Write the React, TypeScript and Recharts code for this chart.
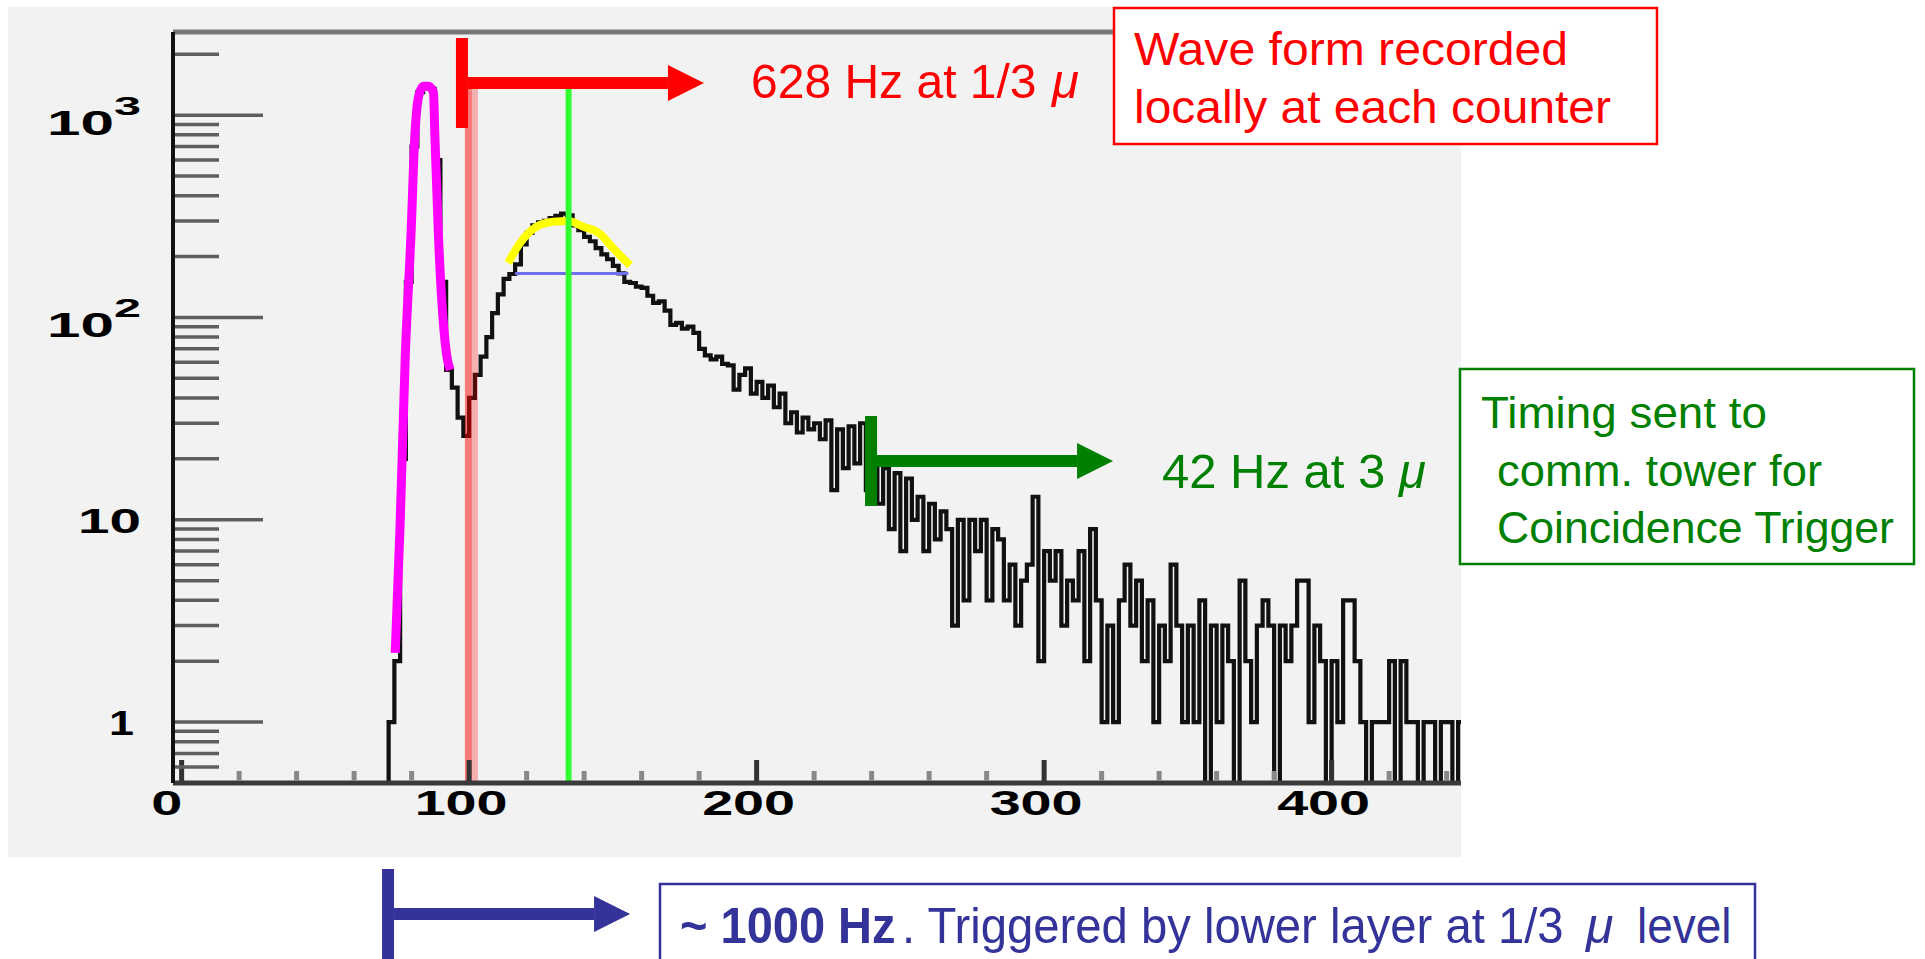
import React from "react";
import { ComposedChart, Line, XAxis, YAxis, ReferenceLine } from "recharts";

// pulse-height histogram, counts per 2-channel bin starting at channel 72
const binStart = 72;
const binWidth = 2;
const counts = [
  1, 2, 20, 150, 700, 1300, 1400, 1350, 600, 150, 55, 45, 32, 26, 40, 52, 64, 80, 105, 130,
  155, 164, 183, 230, 262, 285, 295, 300, 310, 318, 326, 320, 285, 270, 250, 238, 220, 205, 194, 180,
  165, 150, 148, 142, 140, 128, 118, 120, 108, 92, 94, 88, 90, 84, 70, 65, 62, 64, 59, 58,
  44, 52, 56, 42, 48, 40, 46, 36, 42, 30, 34, 27, 32, 28, 30, 25, 31, 14, 28, 18,
  29, 19, 30, 14, 20, 12, 18, 9, 17, 7, 16, 10, 13, 7, 12, 8, 11, 9, 3, 10,
  4, 10, 7, 10, 4, 9, 8, 4, 6, 3, 5, 6, 13, 2, 7, 5, 7, 3, 5, 4,
  7, 2, 9, 4, 1, 3, 1, 4, 6, 3, 5, 2, 4, 1, 3, 2, 6, 3, 1, 3,
  1, 4, 0, 3, 1, 3, 2, 0, 5, 2, 1, 3, 4, 3, 0, 3, 2, 3, 5, 5,
  1, 3, 2, 0, 2, 1, 4, 4, 2, 1, 0, 1, 1, 1, 2, 0, 2, 1, 1, 0,
  1, 1, 0, 1, 1, 0, 1,
];

// gaussian fit of the noise peak, magenta
const noiseFitX = [74.3, 76.0, 77.8, 79.8, 81.1, 82.5, 84.1, 85.8, 87.6, 88.1, 89.3, 92.2, 93.4];
const noiseFitY = [2.2, 9.5, 65, 260, 780, 1250, 1390, 1390, 1300, 780, 260, 65, 55];

// fit of the muon peak, yellow
const muonFitX = [113.6, 117.6, 123.4, 129.2, 134.5, 139.7, 145.5, 150.2, 156.0];
const muonFitY = [186, 232, 281, 297, 300, 281, 259, 219, 181];

const halfMaxLevel = 165;
const halfMaxFrom = 116;
const halfMaxTo = 155.4;

const cutX = 100.8; // 1/3 mu threshold
const peakX = 134.6;
const guideTop = 1360;

const markerRedX = 97.5;
const markerGreenX = 239.8;
const markerBlueX = 71.8;

const xTicks = [0, 20, 40, 60, 80, 100, 120, 140, 160, 180, 200, 220, 240, 260, 280, 300, 320, 340, 360, 380, 400, 420, 440];
const xMajor = [0, 100, 200, 300, 400];
const yTicks = [
  0.6, 0.7, 0.8, 0.9, 1, 2, 3, 4, 5, 6, 7, 8, 9, 10, 20, 30, 40, 50, 60, 70, 80, 90,
  100, 200, 300, 400, 500, 600, 700, 800, 900, 1000, 2000,
];
const yMajor = [1, 10, 100, 1000];

const yFloor = 0.5;
const yTop = 2576;

const histData = [
  { x: binStart - binWidth, y: yFloor },
  ...counts.map((c, i) => ({ x: binStart + i * binWidth, y: c > 0 ? c : yFloor })),
  { x: binStart + counts.length * binWidth, y: yFloor },
];
const noiseFit = noiseFitX.map((x, i) => ({ x, y: noiseFitY[i] }));
const muonFit = muonFitX.map((x, i) => ({ x, y: muonFitY[i] }));

const labelFont = "'Liberation Sans', Arial, sans-serif";
const narrowFont = "'Liberation Sans Narrow', 'Liberation Sans', Arial, sans-serif";

function XTick(props: any) {
  const { x, y, payload } = props;
  const v = payload.value;
  const major = xMajor.includes(v);
  const s = String(v);
  const shift = v === 0 ? 15 : 8;
  return (
    <g>
      <line x1={x} x2={x} y1={y - 2} y2={y - (major ? 23 : 12)} stroke={major ? "#333" : "#888"} strokeWidth={5} />
      {major && (
        <text
          x={x - shift - (s.length * 31) / 2}
          y={y + 32}
          fontFamily={labelFont}
          fontWeight="bold"
          fontSize={35}
          textLength={s.length * 31}
          lengthAdjust="spacingAndGlyphs"
          fill="#000"
        >
          {s}
        </text>
      )}
    </g>
  );
}

function YTick(props: any) {
  const { x, y, payload } = props;
  const v = payload.value;
  const major = yMajor.includes(v);
  let label = null;
  if (v === 1) {
    label = (
      <text x={x - 64} y={y + 13} fontFamily={labelFont} fontWeight="bold" fontSize={35} textLength={25} lengthAdjust="spacingAndGlyphs">
        1
      </text>
    );
  } else if (v === 10) {
    label = (
      <text x={x - 95} y={y + 13} fontFamily={labelFont} fontWeight="bold" fontSize={35} textLength={63} lengthAdjust="spacingAndGlyphs">
        10
      </text>
    );
  } else if (major) {
    const p = String(Math.round(Math.log10(v)));
    label = (
      <g fontFamily={labelFont} fontWeight="bold">
        <text x={x - 126} y={y + 20} fontSize={35} textLength={67} lengthAdjust="spacingAndGlyphs">
          10
        </text>
        <text x={x - 59} y={y} fontSize={26} textLength={27} lengthAdjust="spacingAndGlyphs">
          {p}
        </text>
      </g>
    );
  }
  return (
    <g>
      <line x1={x + 2} x2={x + (major ? 90 : 46)} y1={y} y2={y} stroke="#5e5e5e" strokeWidth={3.5} />
      {label}
    </g>
  );
}

function Marker({ x, top, bottom, mid, color }: { x: number; top: number; bottom: number; mid: number; color: string }) {
  return (
    <g>
      <rect x={x - 6} y={top} width={12} height={bottom - top} fill={color} />
      <rect x={x + 6} y={mid - 6} width={200} height={12} fill={color} />
      <polygon points={`${x + 206},${mid - 18} ${x + 242},${mid} ${x + 206},${mid + 18}`} fill={color} />
    </g>
  );
}

export default function App() {
  return (
    <div style={{ position: "absolute", left: 0, top: 0, width: 1925, height: 959, background: "#fff", overflow: "hidden" }}>
      <div style={{ position: "absolute", left: 8, top: 7, width: 1453, height: 850, background: "#f2f2f2" }} />
      <div style={{ position: "absolute", left: 0, top: 0 }}>
        <ComposedChart width={1925} height={959} data={histData} margin={{ top: 32, right: 464, bottom: 136, left: 73 }}>
          <XAxis
            dataKey="x"
            type="number"
            domain={[-3, 445]}
            allowDataOverflow
            ticks={xTicks}
            interval={0}
            tickSize={0}
            tickMargin={0}
            tickLine={false}
            tick={<XTick />}
            height={40}
            axisLine={{ stroke: "#3a3a3a", strokeWidth: 5 }}
          />
          <YAxis
            type="number"
            scale="log"
            domain={[yFloor, yTop]}
            allowDataOverflow
            ticks={yTicks}
            interval={0}
            tickSize={0}
            tickMargin={0}
            tickLine={false}
            tick={<YTick />}
            width={100}
            axisLine={{ stroke: "#111", strokeWidth: 4 }}
          />
          <ReferenceLine y={yTop} stroke="#777" strokeWidth={5} ifOverflow="visible" />
          <Line type="stepAfter" dataKey="y" stroke="#111" strokeWidth={4.2} dot={false} isAnimationActive={false} />
          <ReferenceLine
            segment={[
              { x: halfMaxFrom, y: halfMaxLevel },
              { x: halfMaxTo, y: halfMaxLevel },
            ]}
            stroke="#6f6ff0"
            strokeWidth={3}
          />
          <Line data={muonFit} type="monotone" dataKey="y" stroke="#ffff00" strokeWidth={8} dot={false} isAnimationActive={false} />
          <Line data={noiseFit} type="monotone" dataKey="y" stroke="#ff00ff" strokeWidth={9} dot={false} isAnimationActive={false} />
          <ReferenceLine
            segment={[
              { x: peakX, y: yFloor },
              { x: peakX, y: guideTop },
            ]}
            stroke="#33ff33"
            strokeWidth={6}
          />
          <ReferenceLine
            segment={[
              { x: cutX, y: yFloor },
              { x: cutX, y: guideTop },
            ]}
            shape={(p: any) => (
              <g>
                <rect x={p.x1 - 6.5} y={Math.min(p.y1, p.y2)} width={7} height={Math.abs(p.y2 - p.y1)} fill="rgba(255,0,0,0.5)" />
                <rect x={p.x1 + 0.5} y={Math.min(p.y1, p.y2)} width={6} height={Math.abs(p.y2 - p.y1)} fill="rgba(255,0,0,0.27)" />
              </g>
            )}
          />
          <ReferenceLine x={markerRedX} ifOverflow="visible" shape={(p: any) => <Marker x={p.x1} top={38} bottom={128} mid={83} color="#ff0000" />} />
          <ReferenceLine x={markerGreenX} ifOverflow="visible" shape={(p: any) => <Marker x={p.x1} top={416} bottom={506} mid={461} color="#008000" />} />
          <ReferenceLine x={markerBlueX} ifOverflow="visible" shape={(p: any) => <Marker x={p.x1} top={869} bottom={965} mid={914} color="#333399" />} />
        </ComposedChart>
      </div>
      <svg width={1925} height={959} style={{ position: "absolute", left: 0, top: 0, pointerEvents: "none" }}>
        <g fill="#ff0000" fontFamily={narrowFont} fontSize={49}>
          <text transform="translate(751,98) scale(0.98,1)">628 Hz at 1/3</text>
          <text x={1052} y={98} fontStyle="italic">μ</text>
        </g>
        <g fill="#008000" fontFamily={narrowFont} fontSize={49}>
          <text x={1162} y={488}>42 Hz at 3</text>
          <text x={1399} y={488} fontStyle="italic">μ</text>
        </g>

        <rect x={1114} y={8} width={543} height={136} fill="#fff" stroke="#ff0000" strokeWidth={2.5} />
        <g fill="#ff0000" fontFamily={narrowFont} fontSize={46}>
          <text x={1134} y={65} textLength={434} lengthAdjust="spacingAndGlyphs">Wave form recorded</text>
          <text x={1134} y={123} textLength={477} lengthAdjust="spacingAndGlyphs">locally at each counter</text>
        </g>

        <rect x={1460} y={369} width={454} height={195} fill="#fff" stroke="#008000" strokeWidth={2.5} />
        <g fill="#008000" fontFamily={labelFont} fontSize={44}>
          <text x={1481} y={428} textLength={286} lengthAdjust="spacingAndGlyphs">Timing sent to</text>
          <text x={1497} y={486} textLength={325} lengthAdjust="spacingAndGlyphs">comm. tower for</text>
          <text x={1497} y={543} textLength={397} lengthAdjust="spacingAndGlyphs">Coincidence Trigger</text>
        </g>

        <rect x={660} y={884} width={1095} height={100} fill="#fff" stroke="#333399" strokeWidth={2.5} />
        <g fill="#333399" fontFamily={narrowFont} fontSize={50}>
          <text transform="translate(680,943) scale(0.94,1)" fontWeight="bold">~ 1000 Hz</text>
          <text transform="translate(902,943) scale(0.945,1)">. Triggered by lower layer at 1/3</text>
          <text x={1586} y={943} fontStyle="italic">μ</text>
          <text transform="translate(1637,943) scale(0.92,1)">level</text>
        </g>
      </svg>
    </div>
  );
}
